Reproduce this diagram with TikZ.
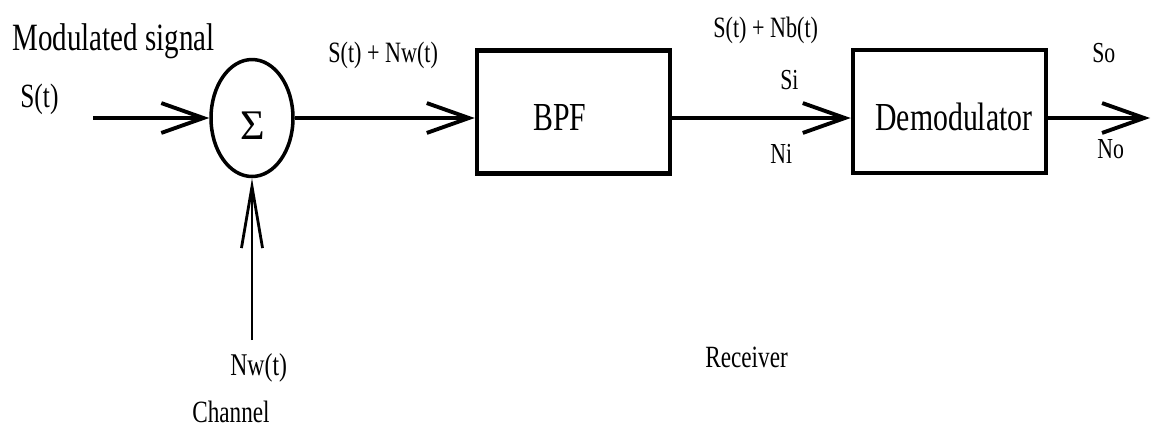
\documentclass[tikz,border=0pt]{standalone}
\usepackage{fontspec}
\setmainfont[FakeStretch=0.75]{Liberation Serif}
\newfontfamily\sigmafont{Liberation Serif}
\usetikzlibrary{arrows.meta, shapes.geometric}
\begin{document}
\begin{tikzpicture}[x=0.02cm, y=-0.02cm,
  blk/.style={draw, line width=2.6pt, minimum width=3.86cm, minimum height=2.46cm, inner sep=0pt},
  sumnode/.style={draw, ellipse, line width=2pt, minimum width=1.64cm, minimum height=2.34cm, inner sep=0pt},
  txt/.style={anchor=base west, inner sep=0pt, font=\fontsize{16.5}{18}\selectfont},
  mid/.style={txt, font=\fontsize{17.6}{20}\selectfont},
  big/.style={txt, font=\fontsize{22.6}{26}\selectfont},
  sig/.style={line width=2.2pt, -{Straight Barb[length=24pt, width=17pt]}},
]
  \useasboundingbox[fill=white] (0,0) rectangle (1151,427);

  \node[sumnode] (sum) at (252,118) {};
  \node[font=\sigmafont\fontsize{24}{26}\selectfont, inner sep=0pt] (sigma) at (253,126) {Σ};
  \node[blk] (bpf) at (573.5,112) {};
  \node[blk] (demod) at (949.5,111.5) {};
  \coordinate (in) at (93,118);
  \coordinate (noise) at (252,340);
  \coordinate (out) at (1150,118);

  \node[big, font=\fontsize{22}{26}\selectfont] (modsig) at (12,50) {Modulated signal};
  \node[txt, font=\fontsize{19.3}{22}\selectfont] (st) at (20,107) {S(t)};
  \node[txt, font=\fontsize{16.8}{19}\selectfont] (sumout) at (328,62) {S(t) + Nw(t)};
  \node[big] (bpflbl) at (533,130) {BPF};
  \node[txt, font=\fontsize{16.8}{19}\selectfont] (bpfout) at (713,37) {S(t) + Nb(t)};
  \node[txt] (si) at (780,89) {Si};
  \node[txt] (ni) at (770,163) {Ni};
  \node[big] (demodlbl) at (875,130) {Demodulator};
  \node[txt] (so) at (1092,62) {So};
  \node[txt] (no) at (1097,158) {No};
  \node[mid, font=\fontsize{18}{20}\selectfont] (nw) at (230,375) {Nw(t)};
  \node[mid] (chan) at (192,422) {Channel};
  \node[mid] (recv) at (705,367) {Receiver};

  \draw[sig] (in) -- (sum.west);
  \draw[sig] (sum.east) -- (bpf.west |- sum);
  \draw[sig] (bpf.east |- sum) -- (demod.west |- sum);
  \draw[sig] (demod.east |- sum) -- (out);
  \draw[line width=1.6pt, -{Straight Barb[length=35pt, width=12pt]}] (noise) -- (sum.south);
\end{tikzpicture}
\end{document}
